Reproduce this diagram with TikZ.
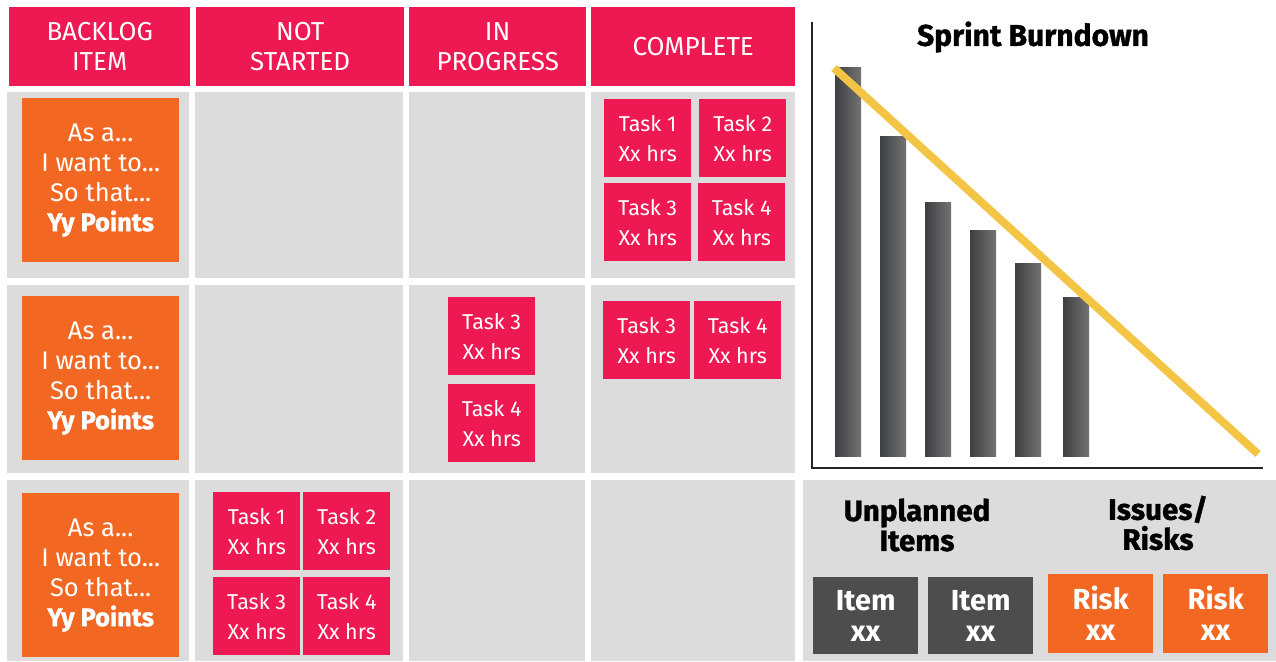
\documentclass[tikz,border=0pt]{standalone}
\usepackage{fontspec}
\setmainfont{Fira Sans}
\newfontfamily\heavyfont{Fira Sans}[BoldFeatures={FakeBold=1.2}]
\definecolor{taskpink}{HTML}{EE1852}
\definecolor{storyorange}{HTML}{F26722}
\definecolor{cellgrey}{HTML}{DCDCDC}
\definecolor{itemgrey}{HTML}{4D4D4D}
\definecolor{bardark}{HTML}{3E3F42}
\definecolor{barlight}{HTML}{737373}
\definecolor{idealyellow}{HTML}{F4C544}

\begin{document}
\begin{tikzpicture}[x=1pt,y=-1pt,
	header/.style={fill=taskpink, text=white, anchor=north west, inner sep=0pt, align=center, minimum height=79pt, font=\fontsize{26}{30}\selectfont},
	story/.style={fill=storyorange, text=white, anchor=north west, inner sep=0pt, align=center, minimum width=157pt, minimum height=164pt, font=\fontsize{25.5}{30}\selectfont},
	task/.style={fill=taskpink, text=white, anchor=north west, inner sep=0pt, align=center, minimum width=87pt, minimum height=78pt, font=\fontsize{21.5}{30}\selectfont},
	extra/.style={text=white, anchor=north west, inner sep=0pt, align=center, minimum width=105pt, minimum height=77pt, font=\bfseries\fontsize{29}{31}\selectfont}]
	\useasboundingbox (0,0) rectangle (1276,661);

	% header row
	\node[header, minimum width=181pt] (hBacklog) at (9,7) {BACKLOG\\ITEM};
	\node[header, minimum width=208pt] (hNotStarted) at (196,7) {NOT\\STARTED};
	\node[header, minimum width=177pt] (hInProgress) at (409,7) {IN\\PROGRESS};
	\node[header, minimum width=204pt] (hComplete) at (591,7) {COMPLETE};

	% grey cells
	\fill[cellgrey] (7,92) rectangle (189,278);
	\fill[cellgrey] (195,92) rectangle (403,278);
	\fill[cellgrey] (409,92) rectangle (585,278);
	\fill[cellgrey] (591,92) rectangle (795,278);
	\fill[cellgrey] (7,285) rectangle (189,473);
	\fill[cellgrey] (195,285) rectangle (403,473);
	\fill[cellgrey] (409,285) rectangle (585,473);
	\fill[cellgrey] (591,285) rectangle (795,473);
	\fill[cellgrey] (7,480) rectangle (189,661);
	\fill[cellgrey] (195,480) rectangle (403,661);
	\fill[cellgrey] (409,480) rectangle (585,661);
	\fill[cellgrey] (591,480) rectangle (795,661);

	% user stories
	\node[story] (story1) at (22,98) {As a...\\I want to...\\So that...\\{\heavyfont\bfseries Yy Points}};
	\node[story] (story2) at (22,296) {As a...\\I want to...\\So that...\\{\heavyfont\bfseries Yy Points}};
	\node[story] (story3) at (22,493) {As a...\\I want to...\\So that...\\{\heavyfont\bfseries Yy Points}};

	% tasks, story 1
	\node[task] (s1t1) at (604,99) {Task 1\\Xx hrs};
	\node[task] (s1t2) at (699,99) {Task 2\\Xx hrs};
	\node[task] (s1t3) at (604,183) {Task 3\\Xx hrs};
	\node[task] (s1t4) at (698,183) {Task 4\\Xx hrs};
	% tasks, story 2
	\node[task] (s2t3) at (448,297) {Task 3\\Xx hrs};
	\node[task] (s2t4) at (448,384) {Task 4\\Xx hrs};
	\node[task] (s2t3b) at (603,301) {Task 3\\Xx hrs};
	\node[task] (s2t4b) at (694,301) {Task 4\\Xx hrs};
	% tasks, story 3
	\node[task] (s3t1) at (213,492) {Task 1\\Xx hrs};
	\node[task] (s3t2) at (303,492) {Task 2\\Xx hrs};
	\node[task] (s3t3) at (213,577) {Task 3\\Xx hrs};
	\node[task] (s3t4) at (303,577) {Task 4\\Xx hrs};

	% burndown chart
	\node[font=\heavyfont\bfseries\fontsize{30}{32}\selectfont] (chartTitle) at (1033,37) {Sprint Burndown};
	\shade[left color=bardark, right color=barlight] (835,67) rectangle (861,456);
	\shade[left color=bardark, right color=barlight] (880,136) rectangle (906,456);
	\shade[left color=bardark, right color=barlight] (925,202) rectangle (951,456);
	\shade[left color=bardark, right color=barlight] (970,230) rectangle (996,456);
	\shade[left color=bardark, right color=barlight] (1015,263) rectangle (1041,456);
	\shade[left color=bardark, right color=barlight] (1063,297) rectangle (1089,456);
	\draw[idealyellow, line width=8pt] (834,68) -- (1258,454); % ideal line
	\draw[black!85, line width=2pt] (812,22) -- (812,468) -- (1263,468); % axes

	% unplanned items and risks
	\fill[cellgrey] (803,480) rectangle (1276,661);
	\node[font=\heavyfont\bfseries\fontsize{29.5}{30}\selectfont, align=center] (unplanned) at (917,525) {Unplanned\\Items};
	\node[font=\heavyfont\bfseries\fontsize{29.5}{30}\selectfont, align=center] (risks) at (1158,523) {Issues/\\Risks};
	\node[extra, fill=itemgrey] (item1) at (813,577) {Item\\xx};
	\node[extra, fill=itemgrey] (item2) at (928,577) {Item\\xx};
	\node[extra, fill=storyorange, minimum height=79pt] (risk1) at (1048,574) {Risk\\xx};
	\node[extra, fill=storyorange, minimum height=79pt] (risk2) at (1163,574) {Risk\\xx};
\end{tikzpicture}
\end{document}
